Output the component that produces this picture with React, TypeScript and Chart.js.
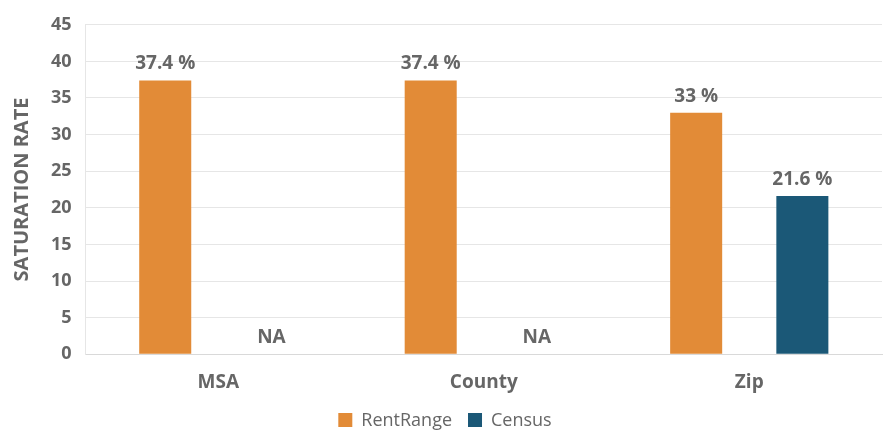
import React, { useEffect, useRef } from "react";
import { Chart, registerables } from "chart.js";

Chart.register(...registerables);

const categories = ["MSA", "County", "Zip"];
const rentRange: (number | null)[] = [37.4, 37.4, 33];
const census: (number | null)[] = [null, null, 21.6];
const rentLabels = ["37.4 %", "37.4 %", "33 %"];
const censusLabels = ["NA", "NA", "21.6 %"];
const yTicks = { min: 0, max: 45, step: 5 };

const FONT = "'Open Sans', sans-serif";
const GREY = "#666666";

const valueLabelPlugin = {
  id: "valueLabels",
  afterDatasetsDraw(chart: any) {
    const ctx = chart.ctx;
    const labelSets = [rentLabels, censusLabels];
    const yScale = chart.scales.y;
    ctx.save();
    ctx.font = `bold 19px ${FONT}`;
    ctx.fillStyle = GREY;
    ctx.textAlign = "center";
    ctx.textBaseline = "bottom";
    chart.data.datasets.forEach((ds: any, di: number) => {
      const meta = chart.getDatasetMeta(di);
      if (meta.hidden) return;
      meta.data.forEach((bar: any, i: number) => {
        const v = ds.data[i];
        const y = v == null ? yScale.getPixelForValue(0) : bar.y;
        ctx.fillText(labelSets[di][i], bar.x, y - 7);
      });
    });
    ctx.restore();
  },
};

// Custom bottom legend, centred, drawn in reserved bottom padding
const legendPlugin = {
  id: "customLegend",
  afterDraw(chart: any) {
    const ctx = chart.ctx;
    const box = 14;
    const gapBoxText = 9;
    const gapItems = 16;
    ctx.save();
    ctx.font = `18px ${FONT}`;
    const items = chart.data.datasets.map((ds: any) => ({
      label: ds.label as string,
      color: ds.backgroundColor as string,
      w: box + gapBoxText + ctx.measureText(ds.label).width,
    }));
    const total = items.reduce((s: number, it: any) => s + it.w, 0) + gapItems * (items.length - 1);
    let x = chart.width / 2 - total / 2;
    const cy = chart.height - 11;
    ctx.textBaseline = "middle";
    ctx.textAlign = "left";
    items.forEach((it: any) => {
      ctx.fillStyle = it.color;
      ctx.fillRect(x, cy - box / 2, box, box);
      ctx.fillStyle = GREY;
      ctx.fillText(it.label, x + box + gapBoxText, cy + 1);
      x += it.w + gapItems;
    });
    ctx.restore();
  },
};

export default function App() {
  const ref = useRef<HTMLCanvasElement>(null);
  useEffect(() => {
    if (!ref.current) return;
    const chart = new Chart(ref.current, {
      type: "bar",
      data: {
        labels: categories,
        datasets: [
          {
            label: "RentRange",
            data: rentRange,
            backgroundColor: "#e28b37",
            borderWidth: 0,
          },
          {
            label: "Census",
            data: census,
            backgroundColor: "#1b5877",
            borderWidth: 0,
          },
        ],
      },
      options: {
        animation: false,
        responsive: true,
        maintainAspectRatio: false,
        datasets: { bar: { categoryPercentage: 0.8, barPercentage: 0.49, skipNull: false } } as any,
        layout: { padding: { left: 10, right: 8, top: 10, bottom: 28 } },
        plugins: {
          legend: { display: false },
          tooltip: { enabled: false },
        },
        scales: {
          x: {
            grid: { display: false },
            border: { display: true, color: "#d9d9d9" },
            ticks: { font: { family: FONT, size: 19, weight: "bold" }, color: GREY, padding: 9 },
          },
          y: {
            min: yTicks.min,
            max: yTicks.max,
            ticks: {
              stepSize: yTicks.step,
              font: { family: FONT, size: 18, weight: "bold" },
              color: GREY,
              padding: 14,
            },
            grid: { color: "#e6e6e6", drawTicks: false },
            border: { display: true, color: "#e6e6e6" },
            title: {
              display: true,
              text: "SATURATION RATE",
              font: { family: FONT, size: 20, weight: "bold" },
              color: GREY,
              padding: { top: 0, bottom: 3 },
            },
          },
        },
      },
      plugins: [valueLabelPlugin, legendPlugin],
    });
    return () => chart.destroy();
  }, []);
  return (
    <div style={{ position: "fixed", left: 0, top: 0, width: 890, height: 431, background: "#fff" }}>
      <canvas ref={ref} />
    </div>
  );
}
